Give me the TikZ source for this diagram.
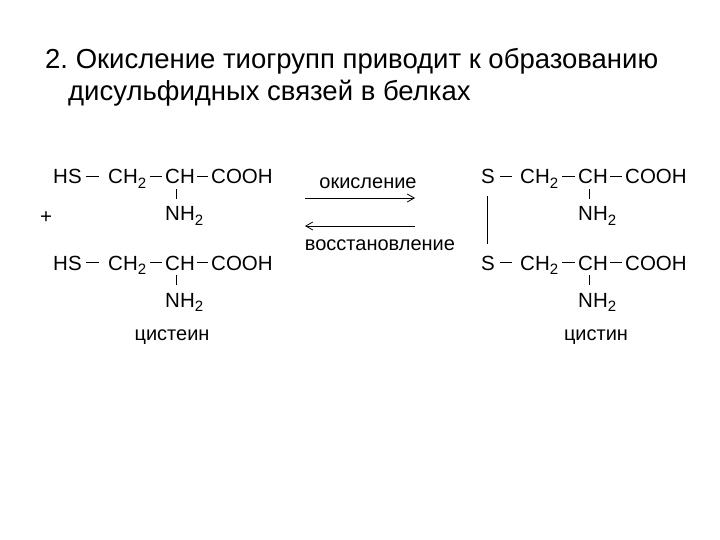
\documentclass[tikz,border=0pt]{standalone}
\usepackage{fontspec}
\usetikzlibrary{arrows.meta}
\setmainfont{Liberation Sans}
\newcommand{\sub}[1]{\raisebox{-0.4ex}{\fontsize{15}{15}\selectfont #1}}
\begin{document}
\begin{tikzpicture}[x=1pt,y=-1pt,
 t/.style={anchor=base west,inner sep=0pt,font=\fontsize{20.5}{20.5}\selectfont},
 ttl/.style={anchor=base west,inner sep=0pt,font=\fontsize{27.5}{27.5}\selectfont},
 lbl/.style={anchor=base,inner sep=0pt,font=\fontsize{20}{20}\selectfont},
 bond/.style={line width=0.8pt},
 arr/.style={line width=0.8pt,-{Straight Barb[length=7pt,width=8pt]}}]
\useasboundingbox (0,0) rectangle (720,540);
\node[ttl] (t1) at (45,69) {2.\ Окисление тиогрупп приводит к образованию};
\node[ttl] (t2) at (68,101) {дисульфидных связей в белках};
% left molecules
\foreach \n/\y in {a/184,b/270}{
 \node[t] (hs\n) at (53,\y) {HS};
 \node[t] (ch2\n) at (108,\y) {CH\sub{2}};
 \node[t] (ch\n) at (165,\y) {CH};
 \node[t] (co\n) at (211,\y) {COOH};
 \node[t] (nh\n) at (165,\y+37) {NH\sub{2}};
 \draw[bond] (86,\y-7.5) -- (99,\y-7.5);
 \draw[bond] (150,\y-7.5) -- (162,\y-7.5);
 \draw[bond] (197,\y-7.5) -- (208,\y-7.5);
 \draw[bond] (176,\y+5) -- (176,\y+15);
}
\node[t] (plus) at (40,224) {+};
\node[lbl] (cys) at (172,340) {цистеин};
% arrows
\node[lbl] (ox) at (368,189) {окисление};
\node[lbl] (red) at (380,250) {восстановление};
\coordinate (a1) at (305,198); \coordinate (a2) at (415,198);
\coordinate (b1) at (415,226); \coordinate (b2) at (305,226);
\draw[arr] (a1) -- (a2);
\draw[arr] (b1) -- (b2);
% right molecules
\foreach \n/\y in {c/184,d/270}{
 \node[t] (s\n) at (481,\y) {S};
 \node[t] (rch2\n) at (520,\y) {CH\sub{2}};
 \node[t] (rch\n) at (578,\y) {CH};
 \node[t] (rco\n) at (625,\y) {COOH};
 \node[t] (rnh\n) at (578,\y+37) {NH\sub{2}};
 \draw[bond] (500,\y-7.5) -- (512,\y-7.5);
 \draw[bond] (562,\y-7.5) -- (575,\y-7.5);
 \draw[bond] (610,\y-7.5) -- (622,\y-7.5);
 \draw[bond] (589,\y+5) -- (589,\y+15);
}
\draw[bond] (487,196) -- (487,244);
\node[lbl] (cyst) at (596,340) {цистин};
\end{tikzpicture}
\end{document}
